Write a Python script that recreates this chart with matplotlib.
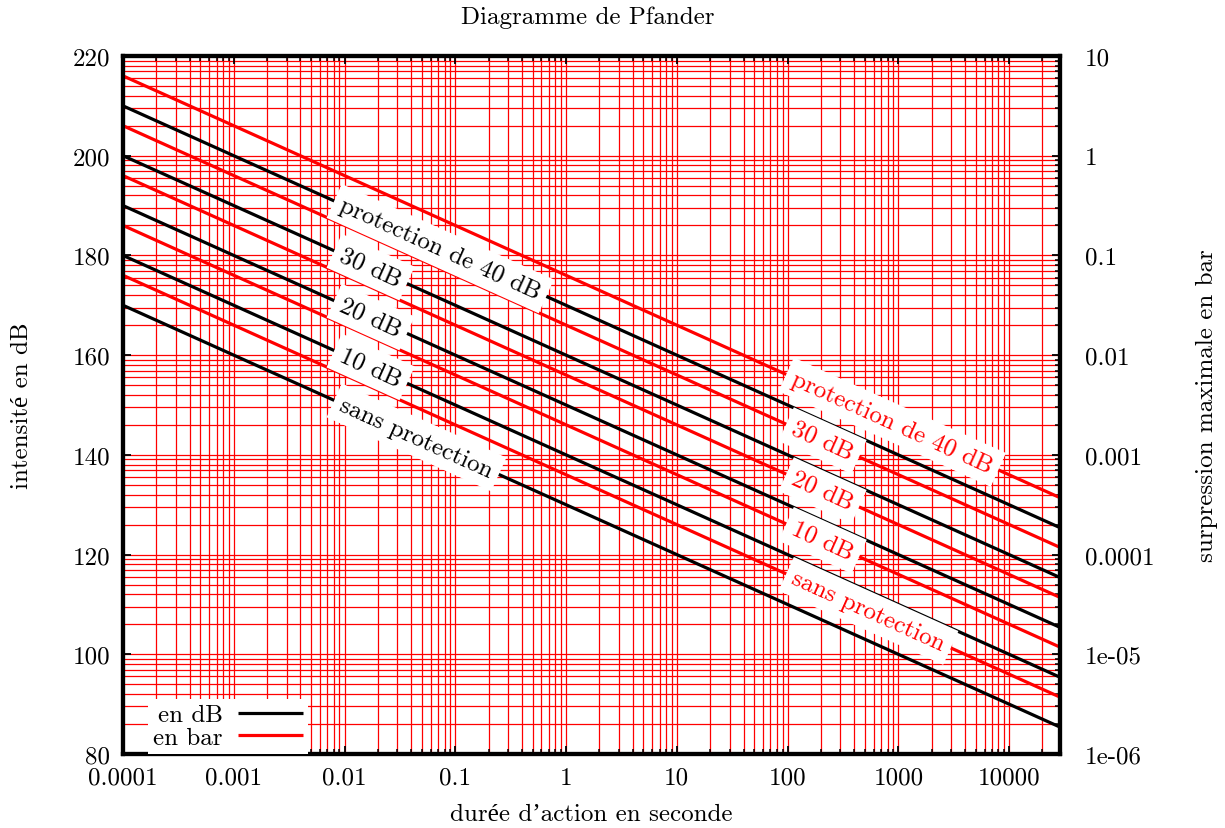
import numpy as np
import matplotlib
matplotlib.use("Agg")
import matplotlib.pyplot as plt
from matplotlib.ticker import FixedLocator, FixedFormatter, LogLocator, NullFormatter

plt.rcParams['font.family'] = ['cmr10', 'Liberation Serif', 'DejaVu Serif']
plt.rcParams['axes.unicode_minus'] = False

# ---------------- data ----------------
duree = [1e-4, 28800]                      # durée d'action (s), line ends
db_sans = [170.0, 85.4]
db_10 = [180.0, 95.4]
db_20 = [190.0, 105.4]
db_30 = [200.0, 115.4]
db_40 = [210.0, 125.4]
bar_sans = [6.32e-2, 3.72e-6]
bar_10 = [2.0e-1, 1.18e-5]
bar_20 = [6.32e-1, 3.72e-5]
bar_30 = [2.0, 1.18e-4]
bar_40 = [6.32, 3.72e-4]
curve_labels = ["sans protection", "10 dB", "20 dB", "30 dB", "protection de 40 dB"]

x_ticks = [1e-4, 1e-3, 1e-2, 1e-1, 1, 10, 100, 1000, 10000]
x_ticklabels = ["0.0001", "0.001", "0.01", "0.1", "1", "10", "100", "1000", "10000"]
y_ticks = [80, 100, 120, 140, 160, 180, 200, 220]
y_ticklabels = ["80", "100", "120", "140", "160", "180", "200", "220"]
y2_ticks = [1e-6, 1e-5, 1e-4, 1e-3, 1e-2, 1e-1, 1, 10]
y2_ticklabels = ["1e-06", "1e-05", "0.0001", "0.001", "0.01", "0.1", "1", "10"]

title = "Diagramme de Pfander"
xlabel = "durée d’action en seconde"
ylabel = "intensité en dB"
y2label = "surpression maximale en bar"
legend_labels = ["en dB", "en bar"]

# ---------------- figure ----------------
FS = 18
fig = plt.figure(figsize=(12.25, 8.29), dpi=100)
ax = fig.add_axes([123/1225, 1-755/829, (1060-123)/1225, (755-57)/829])
ax2 = ax.twinx()
ax.set_zorder(2)
ax2.set_zorder(1)
ax.patch.set_visible(False)

ax.set_xscale('log')
ax.set_xlim(1e-4, 28800)
ax.set_ylim(80, 220)
ax2.set_yscale('log')
ax2.set_ylim(1e-6, 10)

ax.xaxis.set_major_locator(FixedLocator(x_ticks))
ax.xaxis.set_major_formatter(FixedFormatter(x_ticklabels))
ax.xaxis.set_minor_locator(LogLocator(base=10, subs=np.arange(2, 10), numticks=50))
ax.xaxis.set_minor_formatter(NullFormatter())
ax.yaxis.set_major_locator(FixedLocator(y_ticks))
ax.yaxis.set_major_formatter(FixedFormatter(y_ticklabels))
ax2.yaxis.set_major_locator(FixedLocator(y2_ticks))
ax2.yaxis.set_major_formatter(FixedFormatter(y2_ticklabels))
ax2.yaxis.set_minor_locator(LogLocator(base=10, subs=np.arange(2, 10), numticks=50))
ax2.yaxis.set_minor_formatter(NullFormatter())

ax.tick_params(axis='x', which='both', direction='in', top=True, bottom=True, labelsize=FS, pad=9)
ax.tick_params(axis='x', which='major', length=6, width=1.3)
ax.tick_params(axis='x', which='minor', length=3.5, width=1.1)
ax.tick_params(axis='y', which='both', direction='in', left=True, right=False, labelsize=FS, pad=9, length=6, width=1.3)
ax2.tick_params(axis='y', which='major', direction='in', right=True, labelsize=FS, pad=18, length=6, width=1.3)
ax2.tick_params(axis='y', which='minor', direction='in', right=True, length=3.5, width=1.1)

ax.grid(axis='x', which='both', color='red', lw=0.9)
ax2.grid(axis='y', which='both', color='red', lw=0.9)
ax.set_axisbelow(True)
ax2.set_axisbelow(True)

for a in (ax, ax2):
    for s in a.spines.values():
        s.set_linewidth(3)
        s.set_color('black')

db_series = [db_sans, db_10, db_20, db_30, db_40]
bar_series = [bar_sans, bar_10, bar_20, bar_30, bar_40]

for db in db_series:
    hb, = ax.plot(duree, db, color='black', lw=2.3, zorder=3, solid_capstyle='butt')
for bar in bar_series:
    hr, = ax2.plot(duree, bar, color='red', lw=2.3, zorder=3, solid_capstyle='butt')

# rotation angle of the straight lines on screen
fig.canvas.draw()
p1 = ax.transData.transform((duree[0], db_sans[0]))
p2 = ax.transData.transform((duree[1], db_sans[1]))
angle = np.degrees(np.arctan2(p2[1] - p1[1], p2[0] - p1[0]))

lt0, lt1 = np.log10(duree[0]), np.log10(duree[1])

def on_line(t, v0, v1, logy=False):
    f = (np.log10(t) - lt0) / (lt1 - lt0)
    if logy:
        return 10 ** (np.log10(v0) + f * (np.log10(v1) - np.log10(v0)))
    return v0 + f * (v1 - v0)

t_black = 0.0093
t_red = 112
box = dict(boxstyle='square,pad=0.3', fc='white', ec='none')
for lab, db in zip(curve_labels, db_series):
    ax.text(t_black, on_line(t_black, db[0], db[1]), lab, rotation=angle,
            rotation_mode='anchor', ha='left', va='center', fontsize=FS,
            color='black', bbox=box, zorder=5)
for lab, bar in zip(curve_labels, bar_series):
    ax.text(t_red, on_line(t_red, bar[0], bar[1], logy=True), lab, rotation=angle,
            rotation_mode='anchor', ha='left', va='center', fontsize=FS,
            color='red', bbox=box, zorder=5, transform=ax2.transData)

leg = ax.legend([hb, hr], legend_labels, loc='lower left', markerfirst=False,
                bbox_to_anchor=(0.027, 0.0), fontsize=FS, frameon=True,
                fancybox=False, borderaxespad=0, borderpad=0.2,
                handlelength=2.6, handletextpad=0.6, labelspacing=0.0)
leg.get_frame().set_facecolor('white')
leg.get_frame().set_edgecolor('none')
leg.get_frame().set_alpha(1)
for l in leg.get_lines():
    l.set_linewidth(2.3)

fig.text(588/1225, 1-18/829, title, ha='center', va='center', fontsize=FS)
fig.text(591/1225, 1-815/829, xlabel, ha='center', va='center', fontsize=FS)
fig.text(22/1225, 1-406/829, ylabel, ha='center', va='center', rotation=90, fontsize=FS)
fig.text(1207/1225, 1-406/829, y2label, ha='center', va='center', rotation=90, fontsize=FS)

fig.savefig('out.png', dpi=100, facecolor='white')
